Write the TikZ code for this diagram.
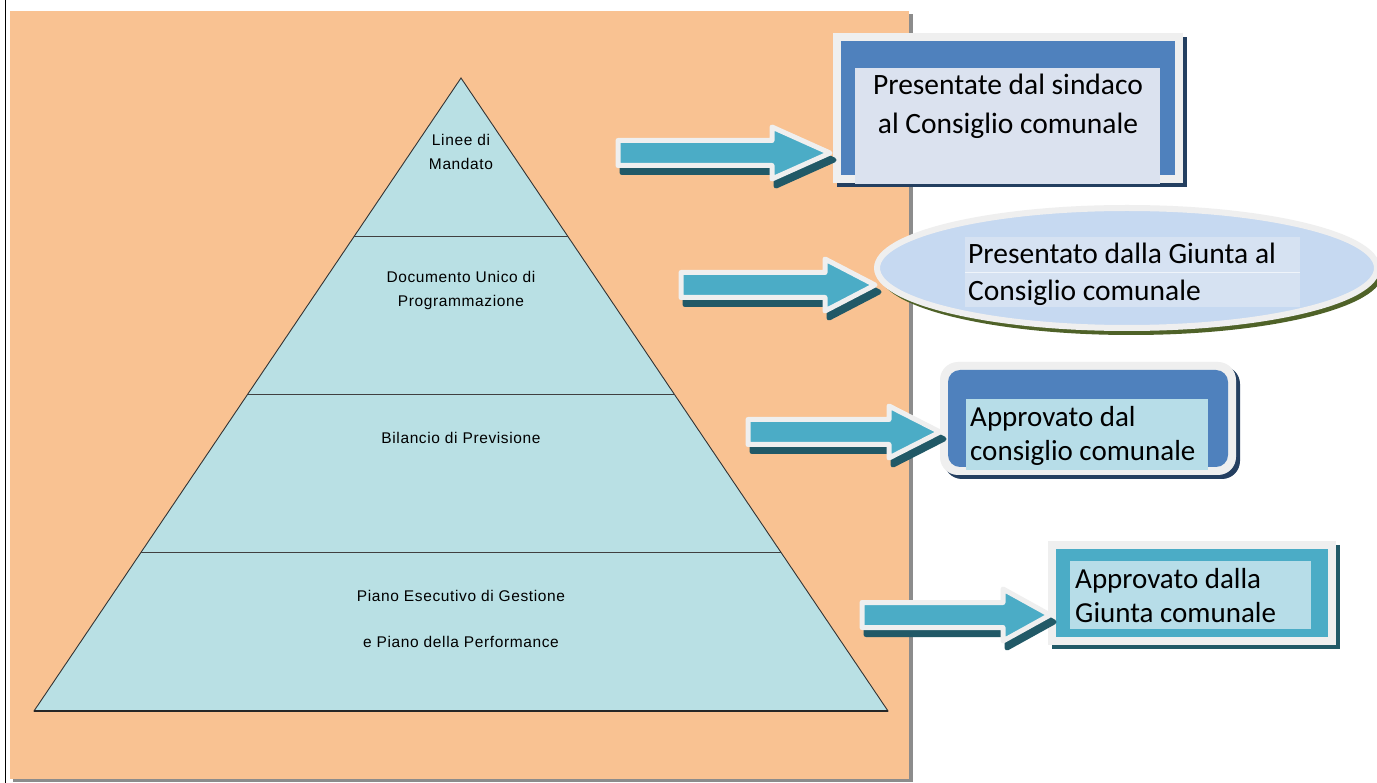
\documentclass[tikz,border=0pt]{standalone}
\usepackage{fontspec}
\setmainfont{Carlito}
\newfontfamily\pyrfont[LetterSpace=4]{Liberation Sans}
\usetikzlibrary{shapes.geometric,calc}
\definecolor{panel}{HTML}{F9C292}
\definecolor{panelshadow}{HTML}{8C8C8C}
\definecolor{pyr}{HTML}{B9E0E4}
\definecolor{blueA}{HTML}{4F81BD}
\definecolor{navy}{HTML}{243F60}
\definecolor{frameC}{HTML}{EFEFEF}
\definecolor{txtA}{HTML}{DBE2EF}
\definecolor{txtB}{HTML}{B7DDE8}
\definecolor{teal}{HTML}{4BACC6}
\definecolor{tealdark}{HTML}{215967}
\definecolor{ellC}{HTML}{C6D9F1}
\definecolor{ellTxt}{HTML}{D6E2F2}
\definecolor{olive}{HTML}{4F6228}
\tikzset{
  pyrtext/.style={font=\pyrfont\fontsize{15.5}{24}\selectfont, align=center, inner sep=0pt, text=black},
  boxtext/.style={font=\fontsize{28.5}{36}\selectfont, inner sep=0pt, text=black},
  arrbody/.style={fill=teal, draw=frameC, line width=5pt, line join=round},
  arrshadow/.style={fill=tealdark, draw=tealdark, line width=5pt, line join=round},
  framebox/.style={rectangle, fill=frameC, draw=none, inner sep=0pt},
}
\newcommand\blockarrow[5]{% name, tail x, head back x, tip x, centre y
  \begin{scope}[shift={(4,7)}]
    \filldraw[arrshadow] (#2,#5-12.5) -- (#3,#5-12.5) -- (#3,#5-26) -- (#4,#5) -- (#3,#5+26) -- (#3,#5+12.5) -- (#2,#5+12.5) -- cycle;
  \end{scope}
  \filldraw[arrbody] (#2,#5-12.5) -- (#3,#5-12.5) -- (#3,#5-26) -- (#4,#5) -- (#3,#5+26) -- (#3,#5+12.5) -- (#2,#5+12.5) -- cycle;
  \coordinate (#1) at (#4,#5);
}
\begin{document}
\begin{tikzpicture}[x=1pt,y=-1pt]
\useasboundingbox (0,0) rectangle (1377,783);
\fill[white] (0,0) rectangle (1377,783);
% left rule and panel
\draw[black, line width=1pt] (5,0) -- (5,783);
\fill[panelshadow] (13,14) rectangle (913,782);
\fill[panel] (10,11) rectangle (909,779);
% pyramid
\coordinate (apex) at (461,78);
\coordinate (bl) at (34,711);
\coordinate (br) at (888,711);
\filldraw[fill=pyr, draw=black!80, line width=0.9pt] (apex) -- (bl) -- (br) -- cycle;
\draw[black!85, line width=2pt] (bl) -- (br);
\foreach \t in {0.25,0.5,0.75}{
  \draw[black!75, line width=0.9pt] ($(apex)!\t!(bl)$) -- ($(apex)!\t!(br)$);
}
\node[pyrtext] (p1) at (461,152) {Linee di\\Mandato};
\node[pyrtext] (p2) at (461,290.5) {Documento Unico di\\Programmazione};
\node[pyrtext] (p3) at (461,438) {Bilancio di Previsione};
\node[pyrtext] (p4a) at (461,596) {Piano Esecutivo di Gestione};
\node[pyrtext] (p4b) at (461,642) {e Piano della Performance};
% box 1
\fill[navy] (837,37) rectangle (1187,187);
\node[framebox, minimum width=350pt, minimum height=150pt] (b1) at (1008,108) {};
\fill[blueA] (841,41) rectangle (1175,175);
\fill[txtA] (855,68) rectangle (1160,184);
\node[boxtext, align=center, font=\fontsize{29.5}{39}\selectfont] (t1) at (1008,106.5) {Presentate dal sindaco\\al Consiglio comunale};
% ellipse
\fill[olive] (1131,273) ellipse [x radius=252, y radius=62];
\node[ellipse, fill=ellC, draw=frameC, line width=6pt, minimum width=500pt, minimum height=120pt, inner sep=0pt] (b2) at (1127,268) {};
\fill[ellTxt] (965,237) rectangle (1300,307);
\draw[white!60!ellTxt, line width=0.8pt] (965,272) -- (1300,272);
\node[boxtext, align=left, anchor=west, font=\fontsize{29.5}{37}\selectfont] (t2) at (968,274) {Presentato dalla Giunta al\\Consiglio comunale};
% box 3
\fill[navy, rounded corners=18pt] (944,366) rectangle (1240,479);
\node[framebox, rounded corners=18pt, minimum width=296pt, minimum height=113pt] (b3) at (1088,418.5) {};
\fill[blueA, rounded corners=12pt] (948,370) rectangle (1228,467);
\fill[txtB] (966,399) rectangle (1208,470);
\node[boxtext, align=left, anchor=west, font=\fontsize{29}{34}\selectfont] (t3) at (970,436) {Approvato dal\\consiglio comunale};
% box 4
\fill[tealdark] (1052,545) rectangle (1340,649);
\node[framebox, minimum width=288pt, minimum height=104pt] (b4) at (1192,593) {};
\fill[teal] (1056,549) rectangle (1328,637);
\fill[txtB] (1070,561) rectangle (1311,629);
\node[boxtext, align=left, anchor=west, font=\fontsize{29}{34}\selectfont] (t4) at (1075,596) {Approvato dalla\\Giunta comunale};
% arrows
\blockarrow{a1}{618}{772}{830}{153}
\blockarrow{a2}{681}{825}{875}{285}
\blockarrow{a3}{748}{889}{940}{432}
\blockarrow{a4}{862}{1003}{1050}{615}
\end{tikzpicture}
\end{document}
